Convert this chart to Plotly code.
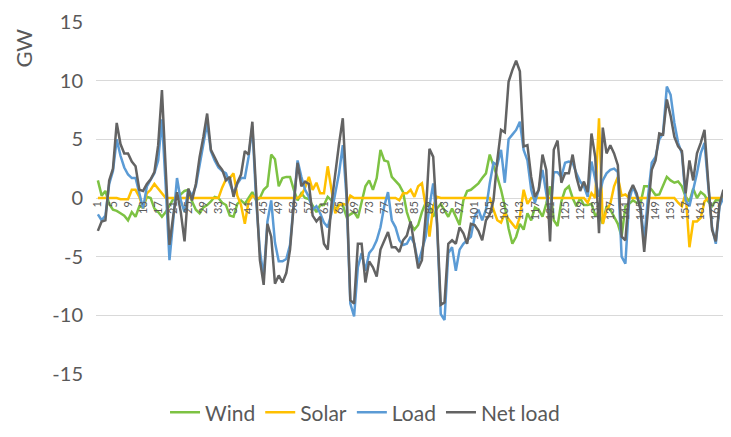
import plotly.graph_objects as go

hours = list(range(1, 169))
tick_hours = list(range(1, 169, 4))
tick_labels = [str(h) for h in tick_hours]

wind = [1.5, 0.2, 0.6, -0.5, -1.0, -1.1, -1.3, -1.5, -1.9, -1.2,
        -1.6, -0.7, -0.8, 0.1, 0.0, -0.9, -1.2, -1.6, -1.2, -0.6,
        -0.1, 0.0, 0.3, 0.6, 0.7, -0.3, -1.0, -1.3, -0.8, -0.6,
        -0.3, 0.1, 0.0, -0.4, -0.6, -1.5, -1.6, -0.5, -0.2, -0.5,
        0.0, 0.5, -0.2, 0.0, 0.7, 1.0, 3.7, 3.3, 1.0, 1.7,
        1.8, 1.8, 0.7, -0.2, 0.4, 0.0, -0.1, -0.7, -1.2, -0.6,
        -0.6, 0.1, -0.2, -1.0, -0.6, -0.6, -1.6, -1.4, -1.2, -1.7,
        -0.2, 1.0, 1.5, 0.7, 1.7, 4.1, 3.2, 3.1, 1.8, 1.4,
        1.1, 0.5, -1.2, -2.2, -2.7, -2.3, -1.2, -0.4, -0.7, -1.6,
        -0.9, -0.5, -1.0, -1.6, -0.9, -1.6, -2.3, -0.2, 0.6, 0.7,
        1.0, 1.25, 1.7, 2.1, 3.7, 2.8, 1.8, 0.7, -0.7, -2.6,
        -3.9, -3.3, -2.2, -2.7, -1.3, -1.9, -0.8, -1.0, -1.6, -0.5,
        1.0, -1.9, -2.4, -0.3, 0.7, 1.0, 0.0, -0.7, 0.0, -0.6,
        -0.6, -0.5, -1.5, -1.3, -2.2, -0.7, -1.0, -1.6, -2.2, -3.3,
        -0.7, -0.5, -0.2, -0.4, -0.5, 1.0, 1.0, 0.7, 0.25, 0.3,
        1.0, 1.8, 1.5, 1.3, 1.4, 1.0, 0.1, -0.3, 0.8, 0.0,
        0.5, 0.25, -0.3, -0.7, -0.2, -0.2, 0.1, 0.0]

solar = ([0, 0, 0, 0, 0, 0, -0.1, -0.1, -0.1]
         + [0.7, 0.7, 0.1, -0.9, 0.4, 0.7, 1.2, 0.8, 0.3]
         + [0] * 15
         + [0.9, 1.6, 1.7, 2.1, 0.2, -0.6, -2.2, -0.3, 0.2]
         + [0] * 12
         + [0.2, 0.9, 1.8, 0.7, 1.3, 0.4, 0.4, 2.7, 0.7, -1.3, -0.6, -0.5, -0.6, 0.2]
         + [0] * 12
         + [-0.2, 0.4, 0.4, 0.7, 0.1, 1.0, 1.25, -0.7, -3.3, -0.7, 0.1]
         + [0] * 14
         + [-1.0, -1.9, -2.1, -1.3, -1.8, -2.2, -2.6, -1.6, 0.7, -0.5]
         + [0] * 15
         + [-0.4, 0.4, 0.0, 6.8, -2.2, -1.0, -0.5, 1.0, 1.8, 0.2, 0.3]
         + [0] * 13
         + [-0.4, -0.7, 0.4, -4.2, -2.0, -2.0, -1.7, -0.3]
         + [0] * 6)

load = [-1.4, -1.9, -1.5, 1.2, 2.3, 5.0, 3.6, 2.6, 2.0, 1.7,
        1.7, 0.3, -0.9, 1.0, 1.5, 2.1, 3.2, 6.7, 1.0, -5.3,
        -1.9, 1.7, -0.2, -1.2, 0.7, 0.2, 1.0, 2.8, 4.5, 6.4,
        4.0, 3.2, 2.6, 2.3, 2.1, 1.3, 0.4, 1.2, 1.7, 1.7,
        3.5, 6.1, -0.2, -4.5, -6.7, -2.0, -0.2, -3.8, -5.4, -5.4,
        -5.2, -4.0, -0.5, 3.2, 1.8, 0.7, 0.1, -1.0, -0.7, -1.3,
        -2.1, -2.5, -1.3, 0.4, 2.1, 4.5, 0.0, -9.0, -10.1, -5.9,
        -4.7, -6.2, -4.7, -4.3, -3.6, -2.5, -0.7, 0.5, -1.9, -2.5,
        -3.6, -4.0, -3.9, -3.3, -3.9, -5.6, -4.4, -3.3, -0.7, 1.25,
        -2.2, -9.9, -10.4, -4.7, -4.2, -6.2, -4.4, -3.9, -3.6, -3.3,
        -1.6, -1.0, -1.9, -1.0, 1.25, 3.0, 2.8, 4.1, 1.3, 5.0,
        5.4, 5.8, 6.5, 4.1, 3.2, 0.7, -0.4, 0.7, 2.4, 0.4,
        -1.6, 2.2, 2.2, 1.8, 3.0, 3.1, 3.0, 2.1, 1.4, 1.0,
        0.1, 3.1, 1.7, 0.1, 1.5, 2.1, 2.4, 2.5, 2.2, -5.0,
        -5.6, -0.2, 1.0, 0.1, -0.7, -3.6, 0.1, 3.0, 3.5, 5.0,
        5.5, 9.5, 8.8, 6.4, 4.7, 3.8, -0.2, -0.7, 0.7, 2.1,
        3.8, 4.7, 1.0, -2.5, -3.9, -0.7, 0.0, -0.5]

net_load = [-2.8, -2.0, -1.9, 1.5, 2.5, 6.4, 4.6, 3.8, 3.8, 3.1,
            2.7, 0.7, 0.6, 1.2, 1.6, 2.2, 4.5, 9.2, 2.5, -4.0,
            -1.5, 0.5, -1.2, -3.7, 0.8, -0.2, 1.2, 3.5, 5.2, 7.2,
            4.1, 3.4, 2.8, 2.4, 1.5, 1.8, 0.1, 1.3, 2.0, 4.0,
            3.7, 6.5, 0.1, -5.3, -7.4, -2.2, -3.3, -7.3, -6.6, -7.2,
            -6.4, -4.4, -0.5, 3.0, 1.0, 1.4, 1.2, -1.5, -2.0, -1.6,
            -3.9, -4.4, -0.5, 2.2, 4.6, 6.8, 0.7, -8.7, -9.0, -3.9,
            -3.9, -7.2, -5.4, -5.9, -6.7, -4.4, -3.6, -2.9, -4.2, -4.2,
            -4.6, -3.6, -3.2, -2.0, -4.0, -6.0, -5.3, -1.5, 4.2, 3.5,
            -2.0, -9.1, -8.9, -3.9, -3.6, -3.9, -2.5, -3.0, -3.9, -2.2,
            -2.3, -2.8, -3.6, -1.9, -1.4, -0.2, 3.2, 5.8, 5.6, 9.9,
            10.9, 11.7, 10.8, 4.4, 4.5, 1.8, 0.1, 0.7, 3.7, 2.4,
            -3.7, 4.1, 4.9, 1.3, 2.1, 2.1, 3.7, 1.8, 0.6, 1.4,
            0.5, 5.5, 3.5, -3.0, 6.0, 3.8, 4.5, 3.8, 2.8, -3.3,
            -3.6, 0.4, 1.1, 0.4, -1.0, -4.6, -1.0, 2.4, 3.2, 5.5,
            5.4, 8.4, 7.0, 5.2, 4.4, 4.0, 0.4, 3.2, 1.5, 3.8,
            4.7, 5.8, 1.3, -2.7, -3.7, -0.5, 0.7, -0.7]

y_ticks = [-15, -10, -5, 0, 5, 10, 15]
y_tick_labels = ["-15", "-10", "-5", "0", "5", "10", "15"]

assert len(wind) == len(solar) == len(load) == len(net_load) == len(hours)

series = [("Wind", wind, "#7DC243"),
          ("Solar", solar, "#FFC000"),
          ("Load", load, "#5B9BD5"),
          ("Net load", net_load, "#636363")]

fig = go.Figure()
for name, vals, color in series:
    fig.add_trace(go.Scatter(x=hours, y=vals, name=name, mode="lines",
                             line=dict(color=color, width=2.5)))

FONT = "Lato"
TXT = "#595959"

# the page body adds an 8 px margin, so the figure is 8 px smaller than the window
fig.update_layout(
    width=723, height=420,
    margin=dict(l=87.5, r=1.5, t=14, b=54, autoexpand=False),
    paper_bgcolor="white", plot_bgcolor="white",
    font=dict(family=FONT, color=TXT),
    showlegend=True,
    legend=dict(orientation="h", x=0.425, xanchor="center", y=-0.11, yanchor="middle",
                font=dict(size=21, color=TXT, family=FONT), itemwidth=30,
                traceorder="normal"),
    xaxis=dict(range=[0.5, 168.5], tickmode="array", tickvals=tick_hours, ticktext=tick_labels,
               tickangle=-90, tickfont=dict(size=11, color=TXT), showgrid=False,
               zeroline=False, showline=False, ticks="", anchor="free", position=0.5,
               automargin=False),
    yaxis=dict(range=[-15, 15], tickmode="array", tickvals=y_ticks, ticktext=y_tick_labels,
               tickfont=dict(size=20, color=TXT), showgrid=True, gridcolor="#D9D9D9",
               gridwidth=1, zeroline=True, zerolinecolor="#D9D9D9", zerolinewidth=1,
               showline=False, ticks="", ticklabelstandoff=12, automargin=False),
    annotations=[dict(text="GW", xref="paper", yref="paper", x=-0.116, y=0.926,
                      xanchor="center", yanchor="middle",
                      textangle=-90, showarrow=False, font=dict(size=22, color=TXT, family=FONT))],
)

fig.write_html("out.html")
